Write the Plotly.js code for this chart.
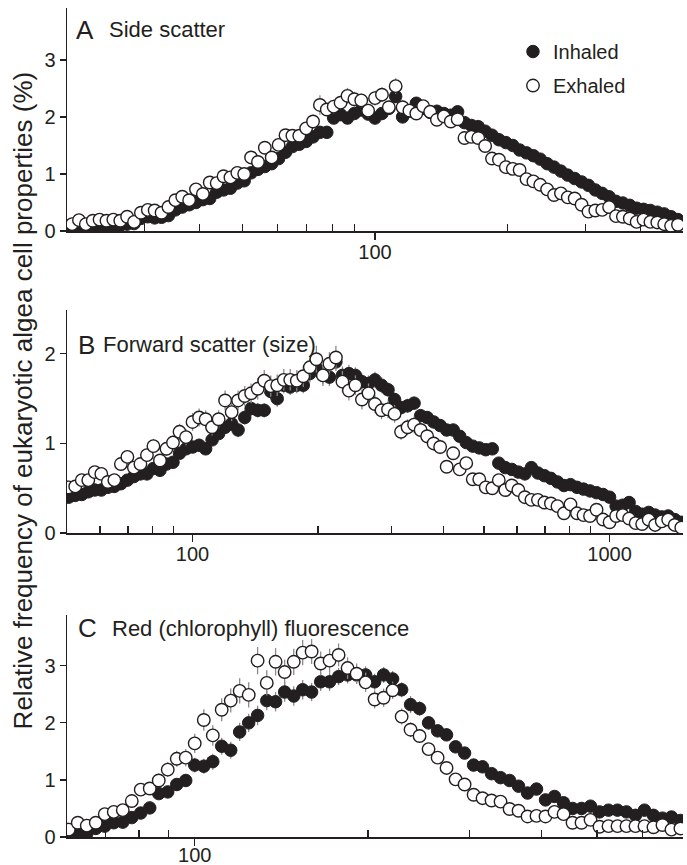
<!DOCTYPE html>
<html>
<head>
<meta charset="utf-8">
<script src="https://cdn.plot.ly/plotly-3.0.1.min.js"></script>
<style>html,body{margin:0;padding:0;background:#fff;}#chart{width:687px;height:865px;}</style>
</head>
<body>
<div id="chart"></div>
<script>
// ---------- Panel A: Side scatter ----------
const xA = [20.54,21.29,22.07,22.88,23.71,24.58,25.48,26.42,27.38,28.39,
29.43,30.51,31.62,32.78,33.98,35.23,36.52,37.86,39.24,40.68,
42.17,43.72,45.32,46.98,48.70,50.48,52.33,54.25,56.23,58.29,
60.43,62.64,64.94,67.32,69.78,72.34,74.99,77.74,80.58,83.54,
86.60,89.77,93.06,96.47,
100.0,103.7,107.5,111.4,115.5,119.7,124.1,128.6,133.4,138.2,
143.3,148.6,154.0,159.6,165.5,171.5,177.8,184.3,191.1,198.1,
205.4,212.9,220.7,228.8,237.1,245.8,254.8,264.2,273.8,283.9,
294.3,305.1,316.2,327.8,339.8,352.3,365.2,378.6,392.4,406.8,
421.7,437.2,453.2,469.8,487.0];
const inhaledA = [0.05,0.06,0.06,0.07,0.08,0.09,0.10,0.10,0.12,0.13,
0.22,0.25,0.23,0.24,0.27,0.37,0.42,0.46,0.50,0.55,
0.57,0.68,0.72,0.75,0.84,0.88,1.02,1.08,1.13,1.18,
1.27,1.38,1.48,1.52,1.57,1.65,1.73,1.73,1.98,2.04,
1.98,2.06,2.12,2.05,1.98,2.06,
2.15,2.36,2.00,2.10,2.24,2.15,2.08,2.10,2.06,2.03,
2.09,1.90,1.85,1.83,1.75,1.68,1.60,1.55,1.50,1.42,
1.37,1.32,1.26,1.18,1.12,1.05,0.98,0.92,0.86,0.80,
0.72,0.66,0.60,0.52,0.49,0.45,0.40,0.38,0.36,0.33,
0.30,0.25,0.20];
const exhaledA = [0.12,0.19,0.12,0.18,0.20,0.18,0.20,0.18,0.25,0.16,
0.32,0.37,0.36,0.32,0.42,0.54,0.60,0.54,0.73,0.65,
0.85,0.84,0.96,0.94,1.02,1.00,1.29,1.21,1.46,1.29,
1.51,1.68,1.67,1.67,1.80,1.92,2.21,2.13,2.18,2.25,
2.37,2.31,2.29,2.11,2.33,2.39,
2.17,2.54,2.17,2.11,2.06,2.19,2.09,1.95,2.01,1.92,
1.96,1.63,1.65,1.63,1.49,1.27,1.25,1.12,1.09,1.07,
0.91,0.87,0.81,0.73,0.63,0.66,0.59,0.57,0.46,0.34,
0.36,0.37,0.42,0.26,0.25,0.22,0.16,0.20,0.16,0.15,
0.12,0.09,0.11];
const errInA = [0.03,0.03,0.03,0.03,0.03,0.03,0.03,0.03,0.03,0.03,
0.03,0.03,0.03,0.03,0.03,0.04,0.04,0.04,0.04,0.04,
0.05,0.05,0.05,0.05,0.05,0.05,0.06,0.06,0.06,0.06,
0.07,0.07,0.07,0.07,0.08,0.08,0.08,0.08,0.10,0.10,
0.10,0.10,0.10,0.10,0.10,0.10,
0.10,0.12,0.10,0.10,0.10,0.08,0.08,0.08,0.08,0.08,
0.07,0.07,0.07,0.07,0.06,0.06,0.06,0.06,0.06,0.05,
0.05,0.05,0.05,0.05,0.05,0.05,0.04,0.04,0.04,0.04,
0.04,0.04,0.04,0.04,0.03,0.03,0.03,0.03,0.03,0.03,
0.03,0.03,0.03];
const errExA = [0.03,0.03,0.03,0.03,0.03,0.03,0.03,0.03,0.03,0.03,
0.04,0.04,0.04,0.04,0.04,0.05,0.05,0.05,0.05,0.05,
0.06,0.06,0.06,0.06,0.06,0.06,0.07,0.07,0.08,0.07,
0.08,0.09,0.09,0.09,0.10,0.12,0.17,0.12,0.12,0.12,
0.14,0.13,0.12,0.12,0.13,0.13,
0.12,0.14,0.12,0.10,0.10,0.10,0.10,0.09,0.09,0.09,
0.09,0.08,0.08,0.08,0.07,0.07,0.07,0.06,0.06,0.06,
0.05,0.05,0.05,0.05,0.05,0.05,0.04,0.04,0.04,0.04,
0.04,0.04,0.04,0.03,0.03,0.03,0.03,0.03,0.03,0.03,
0.03,0.03,0.03];

// ---------- Panel B: Forward scatter (size) ----------
const xB = [50.48,52.33,54.25,56.23,58.29,60.43,62.64,64.94,67.32,69.78,
72.34,74.99,77.74,80.58,83.54,86.60,89.77,93.06,96.47,
100.0,103.7,107.5,111.4,115.5,119.7,124.1,128.6,133.4,138.2,
143.3,148.6,154.0,159.6,165.5,171.5,177.8,184.3,191.1,198.1,
205.4,212.9,220.7,228.8,237.1,245.8,254.8,264.2,273.8,283.9,
294.3,305.1,316.2,327.8,339.8,352.3,365.2,378.6,392.4,406.8,
421.7,437.2,453.2,469.8,487.0,504.8,523.3,542.5,562.3,582.9,
604.3,626.4,649.4,673.2,697.8,723.4,749.9,777.4,805.8,835.4,
866.0,897.7,930.6,964.7,
1000,1037,1075,1114,1155,1197,1241,1286,1334,1382,1433,1486];
const inhaledB = [0.40,0.42,0.43,0.46,0.48,0.48,0.51,0.52,0.55,0.59,
0.63,0.66,0.66,0.72,0.70,0.77,0.79,0.89,0.94,0.96,
0.98,0.94,1.04,1.11,1.18,1.22,1.15,1.29,1.39,1.37,
1.37,1.58,1.50,1.65,1.63,1.65,1.65,1.78,1.84,1.76,
1.74,1.91,1.76,1.78,1.76,1.69,1.67,1.71,
1.65,1.60,1.49,1.40,1.42,1.45,1.31,1.29,1.24,1.20,
1.15,1.15,1.08,1.01,0.97,0.95,0.93,0.94,0.78,0.73,
0.71,0.68,0.66,0.73,0.67,0.64,0.61,0.57,0.53,0.54,
0.51,0.49,0.47,0.45,0.43,0.40,0.30,0.31,0.34,0.24,
0.21,0.23,0.20,0.18,0.19,0.15,0.12];
const exhaledB = [0.51,0.52,0.59,0.59,0.68,0.66,0.57,0.59,0.77,0.85,
0.73,0.77,0.87,0.97,0.81,0.94,1.01,1.13,1.07,1.24,
1.29,1.27,1.18,1.27,1.48,1.35,1.48,1.53,1.56,1.61,
1.70,1.64,1.65,1.71,1.71,1.70,1.75,1.85,1.94,1.76,
1.89,1.96,1.69,1.59,1.65,1.49,1.56,1.44,
1.37,1.38,1.33,1.13,1.18,1.21,1.15,1.08,1.00,0.96,
0.74,0.89,0.71,0.78,0.60,0.60,0.51,0.50,0.59,0.48,
0.53,0.48,0.40,0.37,0.37,0.34,0.33,0.30,0.22,0.32,
0.22,0.20,0.19,0.26,0.15,0.12,0.19,0.20,0.16,0.11,
0.10,0.15,0.09,0.13,0.15,0.09,0.06];
const errInB = [0.03,0.03,0.03,0.03,0.03,0.04,0.04,0.04,0.04,0.04,
0.05,0.05,0.05,0.05,0.05,0.06,0.06,0.06,0.06,0.06,
0.07,0.07,0.07,0.07,0.07,0.08,0.08,0.08,0.08,0.08,
0.08,0.09,0.09,0.09,0.09,0.09,0.09,0.10,0.10,0.10,
0.10,0.10,0.10,0.10,0.09,0.09,0.09,0.09,
0.09,0.08,0.08,0.08,0.08,0.07,0.07,0.07,0.07,0.06,
0.06,0.06,0.06,0.06,0.05,0.05,0.05,0.05,0.05,0.05,
0.04,0.04,0.04,0.04,0.04,0.04,0.04,0.04,0.03,0.03,
0.03,0.03,0.03,0.03,0.03,0.03,0.03,0.03,0.03,0.03,
0.03,0.03,0.03,0.03,0.03,0.03,0.03];
const errExB = [0.04,0.04,0.04,0.04,0.05,0.05,0.05,0.05,0.06,0.07,
0.06,0.06,0.07,0.08,0.07,0.08,0.08,0.09,0.09,0.10,
0.10,0.10,0.09,0.10,0.11,0.10,0.11,0.11,0.11,0.12,
0.12,0.12,0.12,0.12,0.12,0.12,0.12,0.13,0.15,0.12,
0.13,0.13,0.12,0.11,0.11,0.11,0.11,0.10,
0.10,0.10,0.10,0.09,0.09,0.09,0.08,0.08,0.08,0.08,
0.07,0.07,0.07,0.07,0.06,0.06,0.06,0.06,0.06,0.05,
0.05,0.05,0.05,0.04,0.04,0.04,0.04,0.04,0.04,0.04,
0.03,0.03,0.03,0.03,0.03,0.03,0.03,0.03,0.03,0.03,
0.03,0.03,0.03,0.03,0.03,0.03,0.03];

// ---------- Panel C: Red (chlorophyll) fluorescence ----------
const xC = [60.43,62.64,64.94,67.32,69.78,72.34,74.99,77.74,80.58,83.54,
86.60,89.77,93.06,96.47,
100.0,103.7,107.5,111.4,115.5,119.7,124.1,128.6,133.4,138.2,
143.3,148.6,154.0,159.6,165.5,171.5,177.8,184.3,191.1,198.1,
205.4,212.9,220.7,228.8,237.1,245.8,254.8,264.2,273.8,283.9,
294.3,305.1,316.2,327.8,339.8,352.3,365.2,378.6,392.4,406.8,
421.7,437.2,453.2,469.8,487.0,504.8,523.3,542.5,562.3,582.9,
604.3,626.4,649.4,673.2,697.8];
const inhaledC = [0.09,0.08,0.06,0.15,0.19,0.25,0.26,0.34,0.42,0.51,
0.76,0.79,0.92,0.99,1.26,1.24,1.32,1.59,1.52,1.84,
2.00,2.13,2.39,2.37,2.54,2.47,2.58,2.54,2.72,2.72,
2.81,2.84,2.84,2.84,2.72,2.84,2.77,2.58,2.32,2.25,
2.00,1.86,1.79,1.58,1.47,1.26,1.23,1.11,1.04,0.99,
0.89,0.77,0.84,0.65,0.71,0.60,0.50,0.50,0.54,0.44,
0.47,0.47,0.44,0.38,0.47,0.38,0.33,0.35,0.29];
const exhaledC = [0.13,0.25,0.20,0.25,0.40,0.44,0.47,0.63,0.83,0.85,
0.99,1.18,1.37,1.39,1.64,2.05,1.78,2.23,2.39,2.56,
2.49,3.09,2.70,3.07,2.89,3.07,3.23,3.25,3.04,3.09,
3.19,2.96,2.86,2.71,2.41,2.44,2.57,2.11,1.88,1.77,
1.54,1.39,1.21,1.01,0.92,0.74,0.68,0.64,0.62,0.49,
0.46,0.36,0.37,0.36,0.44,0.40,0.25,0.25,0.30,0.18,
0.19,0.19,0.19,0.19,0.19,0.17,0.21,0.13,0.15];
const errInC = [0.04,0.04,0.04,0.05,0.05,0.06,0.06,0.07,0.08,0.09,
0.10,0.10,0.11,0.11,0.13,0.13,0.14,0.15,0.15,0.16,
0.16,0.17,0.17,0.17,0.17,0.17,0.17,0.16,0.16,0.16,
0.15,0.15,0.15,0.15,0.14,0.14,0.14,0.13,0.15,0.13,
0.12,0.11,0.11,0.10,0.09,0.09,0.08,0.08,0.07,0.07,
0.06,0.06,0.06,0.05,0.05,0.05,0.05,0.05,0.04,0.04,
0.04,0.04,0.04,0.04,0.04,0.04,0.04,0.04,0.04];
const errExC = [0.05,0.05,0.05,0.06,0.07,0.07,0.08,0.09,0.10,0.11,
0.12,0.13,0.14,0.15,0.17,0.19,0.18,0.20,0.21,0.22,
0.22,0.24,0.22,0.24,0.22,0.23,0.22,0.22,0.21,0.21,
0.20,0.19,0.18,0.17,0.16,0.16,0.15,0.14,0.13,0.12,
0.11,0.10,0.09,0.08,0.08,0.07,0.07,0.06,0.06,0.05,
0.05,0.05,0.05,0.05,0.05,0.05,0.04,0.04,0.04,0.04,
0.04,0.04,0.04,0.04,0.04,0.04,0.04,0.04,0.04];

const seriesNames = ['Inhaled', 'Exhaled'];
const panelLetters = ['A', 'B', 'C'];
const panelTitles = ['Side scatter', 'Forward scatter (size)', 'Red (chlorophyll) fluorescence'];
const yTitle = 'Relative frequency of eukaryotic algea cell properties (%)';

const INK = '#231f20';
const FONT = 'Liberation Sans, Arial, Helvetica, sans-serif';
const MS = 12.5;

function pair(x, yIn, yEx, eIn, eEx, xa, ya, legend) {
  const errStyle = {color: '#8a8a8a', thickness: 1.3, width: 0, visible: true, type: 'data'};
  return [
    {x: x, y: yIn, xaxis: xa, yaxis: ya, type: 'scatter', mode: 'markers', name: seriesNames[0],
     legendgroup: 'in', showlegend: legend,
     marker: {symbol: 'circle', size: MS, color: INK, line: {color: INK, width: 1}},
     error_y: Object.assign({array: eIn}, errStyle)},
    {x: x, y: yEx, xaxis: xa, yaxis: ya, type: 'scatter', mode: 'markers', name: seriesNames[1],
     legendgroup: 'ex', showlegend: legend,
     marker: {symbol: 'circle', size: MS, color: '#ffffff', line: {color: INK, width: 1.4}},
     error_y: Object.assign({array: eEx}, errStyle)}
  ];
}

const data = [].concat(
  pair(xA, inhaledA, exhaledA, errInA, errExA, 'x', 'y', true),
  pair(xB, inhaledB, exhaledB, errInB, errExB, 'x2', 'y2', false),
  pair(xC, inhaledC, exhaledC, errInC, errExC, 'x3', 'y3', false)
);

function xax(range, major, minor, anchor, standoff) {
  return {
    type: 'log', range: range.map(Math.log10), anchor: anchor,
    showline: true, linecolor: INK, linewidth: 1.5, mirror: false,
    showgrid: false, zeroline: false,
    tickmode: 'array', tickvals: major, ticktext: major.map(String),
    ticks: 'outside', ticklen: 7, tickwidth: 1.2, tickcolor: INK,
    ticklabelstandoff: standoff,
    tickfont: {family: FONT, size: 20, color: INK},
    minor: {tickmode: 'array', tickvals: minor, ticks: 'inside', ticklen: 7, tickwidth: 1.2, tickcolor: INK, showgrid: false},
    fixedrange: true
  };
}
function yax(range, tv, domain, anchor) {
  return {
    range: range, domain: domain, anchor: anchor,
    showline: true, linecolor: INK, linewidth: 1.5,
    showgrid: false, zeroline: false,
    tickmode: 'array', tickvals: tv,
    ticks: 'outside', ticklen: 6, tickwidth: 1.2, tickcolor: INK,
    tickfont: {family: FONT, size: 20, color: INK},
    fixedrange: true
  };
}

const annotations = [];
const letterPos = [[0.011, 0.9735], [0.014, 0.5935], [0.015, 0.252]];
const titlePos = [[0.0646, 0.9735], [0.056, 0.5935], [0.070, 0.252]];
for (let i = 0; i < 3; i++) {
  annotations.push({xref: 'paper', yref: 'paper', x: letterPos[i][0], y: letterPos[i][1],
    xanchor: 'left', yanchor: 'middle', showarrow: false, text: panelLetters[i],
    font: {family: FONT, size: 26, color: INK}});
  annotations.push({xref: 'paper', yref: 'paper', x: titlePos[i][0], y: titlePos[i][1],
    xanchor: 'left', yanchor: 'middle', showarrow: false, text: panelTitles[i],
    font: {family: FONT, size: 22, color: INK}});
}
annotations.push({xref: 'paper', yref: 'paper', x: -0.071, y: 0.527, xanchor: 'center', yanchor: 'middle',
  textangle: -90, showarrow: false, text: yTitle, font: {family: FONT, size: 26, color: INK}});

const layout = {
  width: 687, height: 865,
  margin: {l: 67, r: 4, t: 8, b: 28},
  paper_bgcolor: '#ffffff', plot_bgcolor: '#ffffff',
  font: {family: FONT, color: INK},
  showlegend: true,
  legend: {x: 0.724, y: 0.971, xanchor: 'left', yanchor: 'top', bgcolor: 'rgba(0,0,0,0)',
    font: {family: FONT, size: 20, color: INK}, traceorder: 'grouped', tracegroupgap: 5, itemclick: false},
  xaxis: xax([20, 500], [100], [30, 40, 50, 60, 70, 80, 90, 200, 300, 400], 'y', -5),
  xaxis2: xax([50, 1500], [100, 1000], [60, 70, 80, 90, 200, 300, 400, 500, 600, 700, 800, 900], 'y2', -5),
  xaxis3: xax([60, 705], [100], [70, 80, 90, 200, 300, 400, 500, 600], 'y3', -8),
  yaxis: yax([0, 3.91], [0, 1, 2, 3], [0.731, 1.0], 'x'),
  yaxis2: yax([0, 2.49], [0, 1, 2], [0.3667, 0.6357], 'x2'),
  yaxis3: yax([0, 3.89], [0, 1, 2, 3], [0, 0.2678], 'x3'),
  annotations: annotations
};

Plotly.newPlot('chart', data, layout, {displayModeBar: false, staticPlot: true});
</script>
</body>
</html>
